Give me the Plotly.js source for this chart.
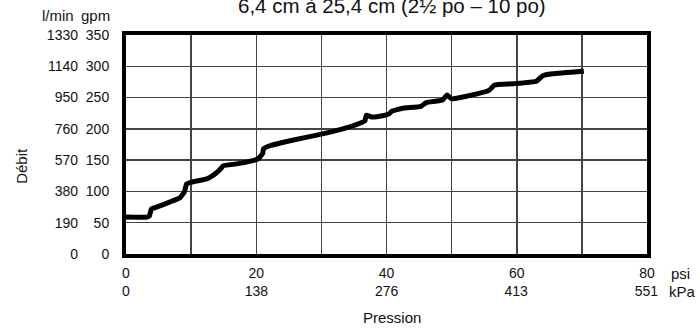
<!DOCTYPE html>
<html><head><meta charset="utf-8">
<script src="https://cdn.plot.ly/plotly-3.0.1.min.js"></script>
<style>html,body{margin:0;padding:0;background:#fff}#c{width:700px;height:328px}</style>
</head><body><div id="c"></div>
<script>
const pressurePsi = [0,3.2,3.6,3.9,4.7,6.7,8.3,9.0,9.3,10.1,12.4,13.9,14.7,14.9,17,19,20.3,21,21.1,22.1,25.2,29.3,33.3,35.9,36.7,36.9,37.7,39.4,40.4,40.8,42.5,45.3,46.1,48.6,49.3,50.0,54.3,55.8,56.6,59.4,63.0,64.0,65.5,70.3];
const flowGpm = [59,59,61,72,75,83,90,100,112,115,120,130,138,141,144,148,152,161,168,173,181,190,200,209,213,222,219,221,224,228,233,236,242,246,254,248,257,262,270,272,276,285,288,292];
const psiGrid = [0,10,20,30,40,50,60,70,80];
const psiTicks = [0,20,40,60,80];
const kpaTicks = [0,138,276,413,551];
const gpmTicks = [0,50,100,150,200,250,300,350];
const lminTicks = [0,190,380,570,760,950,1140,1330];
const titleText = "6,4 cm à 25,4 cm (2½ po – 10 po)";

const FONT = "Liberation Sans, Arial, sans-serif";
const fnt = {family: FONT, size: 14, color: "#111"};
const tfnt = {family: FONT, size: 15, color: "#111"};

const trace = {
  x: pressurePsi, y: flowGpm, type: "scatter", mode: "lines",
  line: {color: "#000", width: 5, shape: "spline", smoothing: 0.4},
  hoverinfo: "skip", showlegend: false
};

const layout = {
  width: 700, height: 328,
  margin: {l: 126, r: 52.5, t: 35, b: 73.5},
  paper_bgcolor: "#fff", plot_bgcolor: "#fff",
  font: fnt,
  showlegend: false,
  xaxis: {
    range: [0, 80], tickvals: psiGrid,
    ticktext: psiGrid.map(v => psiTicks.includes(v) ? String(v) : ""),
    showgrid: true, gridcolor: "#444", gridwidth: 1.5, zeroline: false,
    showline: true, mirror: true, linecolor: "#000", linewidth: 4,
    ticks: "", ticklabelstandoff: 3, tickfont: fnt, fixedrange: true
  },
  xaxis2: {
    range: [0, 551.58], tickvals: kpaTicks, ticktext: kpaTicks.map(String),
    overlaying: "x", anchor: "y", side: "bottom",
    showgrid: false, zeroline: false, showline: false,
    ticks: "", ticklabelstandoff: 27, tickfont: fnt, fixedrange: true
  },
  yaxis: {
    range: [0, 350], tickvals: gpmTicks, ticktext: gpmTicks.map(String),
    showgrid: true, gridcolor: "#444", gridwidth: 1.5, zeroline: false,
    showline: true, mirror: true, linecolor: "#000", linewidth: 4,
    ticks: "", ticklabelstandoff: 10, tickfont: fnt, fixedrange: true
  },
  yaxis2: {
    range: [0, 1330], tickvals: lminTicks, ticktext: lminTicks.map(String),
    overlaying: "y", anchor: "free", position: 0, side: "left",
    showgrid: false, zeroline: false, showline: false,
    ticks: "", ticklabelstandoff: 48, tickfont: fnt, fixedrange: true
  },
  annotations: [
    {text: titleText, xref: "paper", yref: "paper", x: 0.51, y: 1.135,
     xanchor: "center", yanchor: "middle", showarrow: false,
     font: {family: FONT, size: 20.5, color: "#111"}},
    {text: "l/min", xref: "paper", yref: "paper", x: (76-126)/521.5, y: (254.5-15)/219.5,
     xanchor: "right", yanchor: "middle", showarrow: false, font: tfnt},
    {text: "gpm", xref: "paper", yref: "paper", x: (112-126)/521.5, y: (254.5-15)/219.5,
     xanchor: "right", yanchor: "middle", showarrow: false, font: tfnt},
    {text: "Débit", xref: "paper", yref: "paper", x: (21.5-126)/521.5, y: (254.5-166.5)/219.5,
     xanchor: "center", yanchor: "middle", textangle: -90, showarrow: false, font: tfnt},
    {text: "psi", xref: "paper", yref: "paper", x: (670-126)/521.5, y: (254.5-274)/219.5,
     xanchor: "left", yanchor: "middle", showarrow: false, font: tfnt},
    {text: "kPa", xref: "paper", yref: "paper", x: (668-126)/521.5, y: (254.5-292)/219.5,
     xanchor: "left", yanchor: "middle", showarrow: false, font: tfnt},
    {text: "Pression", xref: "paper", yref: "paper", x: (392-126)/521.5, y: (254.5-318)/219.5,
     xanchor: "center", yanchor: "middle", showarrow: false, font: tfnt}
  ]
};

const kpaTrace = {x: [0], y: [0], xaxis: "x2", yaxis: "y", mode: "markers",
  marker: {opacity: 0}, hoverinfo: "skip", showlegend: false};
const lminTrace = {x: [0], y: [0], xaxis: "x", yaxis: "y2", mode: "markers",
  marker: {opacity: 0}, hoverinfo: "skip", showlegend: false};

Plotly.newPlot("c", [kpaTrace, lminTrace, trace], layout, {staticPlot: true, displayModeBar: false});
</script></body></html>
